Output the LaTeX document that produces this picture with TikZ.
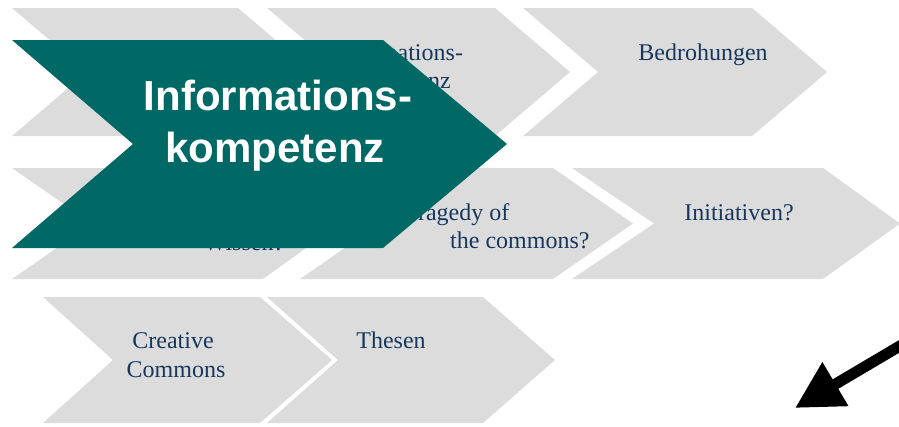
\documentclass[tikz,border=0pt]{standalone}
\usepackage{fontspec}
\setmainfont{Liberation Serif}
\newfontfamily\headfont{Liberation Sans}
\usetikzlibrary{arrows.meta}
\definecolor{chevgray}{RGB}{220,220,220}
\definecolor{tealmain}{RGB}{0,104,101}
\definecolor{navytext}{RGB}{23,55,94}
\tikzset{
  chevshape/.style={fill=chevgray, draw=none},
  tealshape/.style={fill=tealmain, draw=none},
  graylabel/.style={inner sep=0pt, text=navytext, font=\fontsize{24}{28}\selectfont},
  headlabel/.style={inner sep=0pt, text=white, font=\headfont\bfseries\fontsize{42}{51}\selectfont},
  bigarrow/.style={draw=black, line width=11pt, -{Triangle[length=47pt,width=48pt]}}
}
\begin{document}
\begin{tikzpicture}[x=1pt,y=-1pt]
\useasboundingbox (0,0) rectangle (899,426);
% Row 1
\path[chevshape] (12,8) -- (238,8) -- (313,72) -- (238,136) -- (12,136) -- (87,72) -- cycle;
\path[chevshape] (267,8) -- (495,8) -- (570,72) -- (495,136) -- (267,136) -- (342,72) -- cycle;
\path[chevshape] (523,8) -- (752,8) -- (827,72) -- (752,136) -- (523,136) -- (598,72) -- cycle;
\node[graylabel, anchor=base] (r1b1) at (397,60) {Informations-};
\node[graylabel, anchor=base] (r1b2) at (398,88) {kompetenz};
\node[graylabel, anchor=base] (r1c) at (703,60) {Bedrohungen};
% Row 2
\path[chevshape] (12,168) -- (263,168) -- (340,223.5) -- (263,279) -- (12,279) -- (92,223.5) -- cycle;
\path[chevshape] (300,168) -- (553,168) -- (633,223.5) -- (553,279) -- (300,279) -- (380,223.5) -- cycle;
\path[chevshape] (572,168) -- (823,168) -- (900,223.5) -- (823,279) -- (572,279) -- (654,223.5) -- cycle;
\node[graylabel, anchor=base] (r2a) at (244,250) {Wissen?};
\node[graylabel, anchor=base west] (r2b1) at (404,220) {Tragedy of};
\node[graylabel, anchor=base west] (r2b2) at (450,248) {the commons?};
\node[graylabel, anchor=base] (r2c) at (739,220) {Initiativen?};
% Row 3
\path[chevshape] (43,297) -- (260,297) -- (332,360) -- (260,423) -- (43,423) -- (113,360) -- cycle;
\path[chevshape] (267,297) -- (483,297) -- (555,360) -- (483,423) -- (267,423) -- (338,360) -- cycle;
\node[graylabel, anchor=base] (r3a1) at (173,348) {Creative};
\node[graylabel, anchor=base] (r3a2) at (176,377) {Commons};
\node[graylabel, anchor=base] (r3b) at (391,348) {Thesen};
% Teal chevron
\path[tealshape] (12,40) -- (383,40) -- (507,144) -- (383,248) -- (12,248) -- (133,144) -- cycle;
\node[headlabel, anchor=base] (head1) at (278,110) {Informations-};
\node[headlabel, anchor=base] (head2) at (275,162) {kompetenz};
% Arrow
\coordinate (arrS) at (910,340);
\coordinate (arrE) at (795,408);
\draw[bigarrow] (arrS) -- (arrE);
\end{tikzpicture}
\end{document}
